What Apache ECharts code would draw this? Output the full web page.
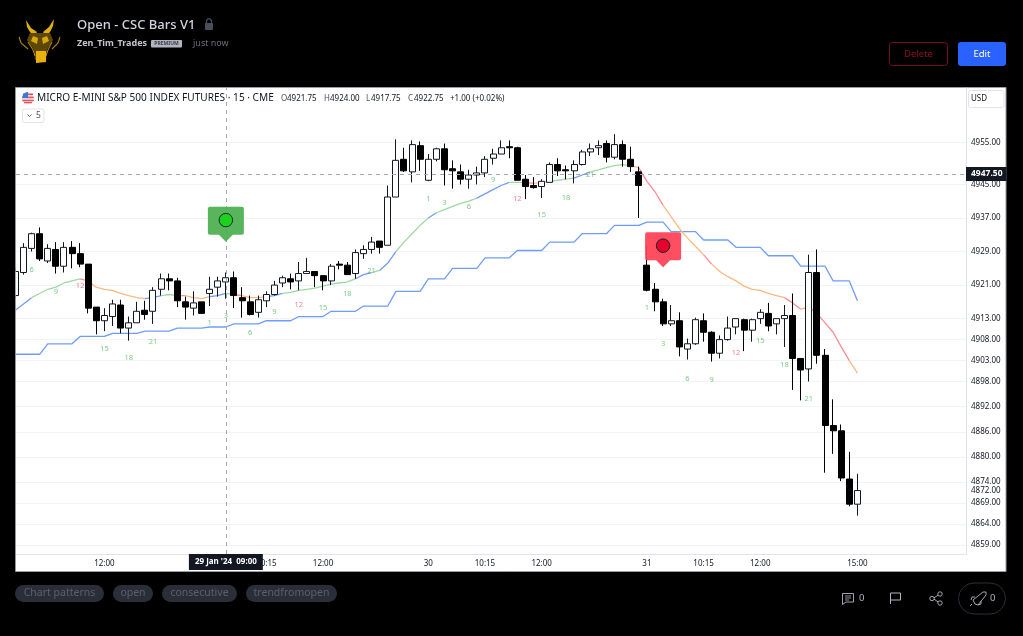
<!DOCTYPE html>
<html>
<head>
<meta charset="utf-8">
<style>html,body{margin:0;padding:0;background:#000}#c{width:1023px;height:636px}</style>
<script src="https://cdn.jsdelivr.net/npm/echarts@6/dist/echarts.min.js"></script>
</head>
<body>
<div id="c"></div>
<script>
// ---- data (bar number 0 is the 12:00 bar of 26 Jan) ----
const firstBar = -11;
// [open, close, low, high]
const ohlc = [
[4918.5,4924.25,4918,4925],[4924,4930,4923.5,4931],[4929.75,4933.25,4929,4933.5],[4933.25,4927.25,4926.75,4934.75],
[4926.75,4929.75,4926.25,4930.75],[4929.5,4925.5,4923.75,4931.25],[4925.5,4930,4924,4931.25],[4930,4928.5,4925,4931.5],
[4928.5,4926,4925.25,4931],[4926,4915.5,4914.25,4926],[4915.75,4912.5,4909.25,4915.75],[4912.5,4913.75,4910,4915.5],
[4913.5,4916.5,4911.25,4917.5],[4916.25,4910.75,4909.5,4917.5],[4910.75,4912,4907.75,4913.5],[4912,4914.75,4912,4917],
[4915,4914,4912.75,4917.25],[4914.75,4919.75,4911.75,4920.5],[4920,4922.5,4918.5,4923.75],[4922.5,4922,4919.75,4923.75],
[4922,4917.25,4915.75,4922.75],[4917,4915.75,4912.75,4918.25],[4915.5,4916.75,4913.75,4919.5],[4917,4914.25,4914.25,4917],
[4919,4920,4916,4923],[4920.5,4922,4918.25,4923],[4921.75,4922.75,4917.75,4924],[4922.75,4918.5,4915.5,4924.25],
[4918,4917.25,4913.25,4920.5],[4917,4914,4913.75,4918.5],[4914.5,4917.5,4913.25,4918.5],[4917.25,4918.75,4915.75,4919.5],
[4918.75,4921,4918.5,4922],[4921.5,4922.75,4920.5,4923.25],[4922.5,4921.75,4920,4923.75],[4922,4923.75,4919.75,4926.5],
[4923.75,4924.25,4923.75,4927.5],[4924.25,4923.25,4920.5,4924.25],[4923.25,4922,4919.75,4923.25],[4922,4925.5,4921,4926],
[4926,4925.75,4924.75,4926.75],[4925.75,4923.5,4923.5,4926.5],[4923.75,4928.75,4922.5,4929.5],[4928.5,4929.5,4927.25,4930.5],
[4929.5,4931.25,4928.5,4932.5],[4931.5,4930,4928.5,4931.5],[4930.5,4942,4930.5,4944.75],[4942,4950.75,4942,4955.75],
[4951,4948.25,4948,4953.75],[4948,4954.5,4945.5,4955.5],[4954.25,4951,4948.25,4955.25],[4946,4951,4945.75,4952.25],
[4951,4953.5,4950.5,4953.75],[4953.5,4948.5,4944.75,4954.75],[4948.75,4948.25,4944,4950.75],[4948,4946.25,4945,4949.75],
[4946.25,4947.25,4944,4948.5],[4947.25,4947.75,4945,4949.25],[4947.75,4951,4946.75,4951.75],[4951.25,4952.25,4949.75,4953.5],
[4952.25,4953.75,4952.25,4955.5],[4954,4953.75,4951.25,4955.5],[4953.75,4946,4946,4954],[4946.25,4944.5,4941.5,4947.25],
[4944.75,4944.25,4944,4946.75],[4944.5,4945.75,4941.75,4946.25],[4945.5,4949.75,4945.5,4950.25],[4949.75,4948.25,4947,4951.25],
[4948.5,4948.25,4946.25,4949.5],[4948.25,4949.75,4945.25,4950.75],[4949.75,4952.75,4949.5,4953.25],[4952.75,4953.5,4951.75,4954.75],
[4953.75,4954.25,4952,4955.5],[4954.75,4951.5,4950.25,4955.5],[4951.5,4954.5,4951,4957],[4954.5,4951,4949.25,4955.5],
[4951,4949.25,4948,4954],[4948,4944.75,4937,4949.25],[4925.75,4919.75,4919.5,4930.5],[4920,4917,4914.75,4921.5],
[4917,4911.75,4911.25,4917.75],[4911.75,4912.5,4911.25,4916.25],[4912.5,4906.25,4904,4914.5],[4905.75,4907,4903.25,4908.25],
[4907,4912.75,4906.75,4913.25],[4912.5,4909.75,4907.5,4914.25],[4909.75,4904.75,4902.75,4910],[4904.75,4908,4903.5,4909],
[4908,4910.75,4907.75,4913.5],[4911,4913,4909.25,4913],[4912.75,4910.25,4905.25,4913],[4910.25,4912.75,4907.5,4913],
[4913,4914.5,4911.75,4915.25],[4914.25,4911.25,4910,4916.75],[4911.75,4913,4909.25,4913],[4913,4913.75,4906.25,4916.25],
[4913.75,4903.5,4896,4919],[4903.5,4900.75,4893.5,4903.5],[4901,4924,4898,4928.25],[4924,4904.25,4902.25,4929.5],
[4904.25,4887.5,4876.25,4905.75],[4887.5,4886.25,4880.75,4893.75],[4886.25,4875,4874.25,4887.75],[4874.75,4868.75,4868.25,4881.25],
[4868.75,4872,4866,4876]
];
const stepLine = [
4904.5,4904.5,4904.5,4904.5,4907,4907,4907,4907,4908.75,4908.75,4908.75,4908.75,4909.5,4909.5,4909.5,4909.5,
4910,4910,4910,4910,4910.75,4910.75,4910.75,4910.75,4911,4911,4911,4911.75,4911.75,4911.75,4911.75,
4912.5,4912.5,4912.5,4912.5,4913.5,4913.5,4913.5,4913.5,4914.75,4914.75,4914.75,4914.75,4916,4916,4916,4916,
4919.5,4919.5,4919.5,4919.5,4922.5,4922.5,4922.5,4925,4925,4925,4925,4927.5,4927.5,4927.5,4927.5,
4929.25,4929.25,4929.25,4929.25,4931.25,4931.25,4931.25,4931.25,4933.25,4933.25,4933.25,4933.25,
4935.25,4935.25,4935.25,4935.25,4936,4936,4936,4933.75,4933.75,4933.75,4933.75,4931.75,4931.75,4931.75,4931.75,
4930,4930,4930,4930,4928,4928,4928,4928,4925.5,4925.5,4925.5,4925.5,4922,4922,4922,4917.25
];
const emaLine = [
4915,4916.5,4918,4919,4920,4920.5,4921.5,4922,4922.5,4922,4920.5,4920,4919.75,4919,4918.5,4918,4917.75,4918,4918.5,4918.75,
4918.5,4918.5,4918,4917.75,4918.25,4918.5,4919,4918.75,4918.5,4918,4918,4918.25,4918.5,4919,4919.25,4919.75,4920,4920.25,4920.75,
4921.25,4921.5,4921.75,4922.5,4923.5,4924,4924.5,4926.25,4929,4931.25,4933.25,4935.25,4937,4938.25,4939,4939.75,4940.5,4941,
4941.75,4942.75,4943.75,4944.75,4945.5,4945.5,4945.5,4945.25,4945.5,4945.75,4946,4946.25,4946.5,4947.25,4948,4948.5,4949,4949.5,
4949.75,4949.5,4949,4945.75,4943.25,4940,4937.25,4934.5,4932.25,4930.25,4928.25,4926,4924.25,4923,4922,4920.75,4920,4919.75,
4919,4918.5,4918,4916.75,4915.25,4915.75,4914.25,4912,4909.75,4906.25,4903,4900
];
// [from bar, to bar, colour key]
const emaSegments = [
[-11,-9,'blue'],[-9,-3,'green'],[-3,-2,'red'],[-2,5,'orange'],[5,7,'blue'],[7,9,'green'],[9,10,'red'],[10,13,'orange'],
[13,15,'blue'],[15,16,'green'],[16,17,'red'],[17,20,'orange'],[20,22,'blue'],[22,31,'green'],[31,33,'blue'],[33,34,'green'],
[34,36,'blue'],[36,40,'green'],[40,41,'blue'],[41,46,'green'],[46,50,'blue'],[50,52,'green'],[52,53,'red'],[53,54,'orange'],
[54,58,'green'],[58,60,'blue'],[60,65,'green'],[65,66,'orange'],[66,69,'red'],[69,74,'orange'],[74,75,'red'],[75,84,'orange'],
[84,86,'red'],[86,87,'orange'],[87,92,'red'],[92,93,'orange']
];
const emaColors = {blue:'#6f9bff',green:'#9fd8a3',red:'#ff8a94',orange:'#ffb97f'};
// [bar, price, text]
const countLabels = [
[-9,4924.6,'6'],[-6,4919.4,'9'],[-3,4920.8,'12'],[0,4905.75,'15'],[3,4903.6,'18'],[6,4907.4,'21'],
[13,4912,'1'],[15,4913.6,'3'],[18,4909.6,'6'],[21,4914.6,'9'],[24,4916.25,'12'],[27,4915.5,'15'],[30,4918.9,'18'],[33,4924.4,'21'],
[40,4941.6,'1'],[42,4940.5,'3'],[45,4939.6,'6'],[48,4946.1,'9'],[51,4941.6,'12'],[54,4937.7,'15'],[57,4941.9,'18'],[60,4947.3,'21'],
[67,4915.5,'1'],[69,4907,'3'],[72,4898.75,'6'],[75,4898.4,'9'],[78,4904.9,'12'],[81,4907.6,'15'],[84,4902,'18'],[87,4893.85,'21']
];
const longSignal = {bar:15, tip:4931.35, dot:4936.5};
const shortSignal = {bar:69, tip:4925.25, dot:4930.4};
const xTickBars = [0,20,27,40,47,54,67,74,81,93];
const xTickLabels = ['12:00','10:15','12:00','30','10:15','12:00','31','10:15','12:00','15:00'];
const yTicks = [4955,4945,4937,4929,4921,4913,4908,4903,4898,4892,4886,4880,4874,4869,4864,4859];
const lastPrice = 4872;
const crossPrice = 4947.5;
const crossBar = 15;
const crossTimeLabel = "29 Jan '24  09:00";
const tagNames = ['Chart patterns','open','consecutive','trendfromopen'];

// ---- chart ----
const FONT = '"Noto Sans", sans-serif';
const barNo = i => firstBar + i;
const idx = b => b - firstBar;
const flagPath = 'path://M2 0H34Q36 0 36 2V26Q36 28 34 28H25L18 35L11 28H2Q0 28 0 26V2Q0 0 2 0Z';

const series = [];
series.push({type:'line',name:'step',silent:true,symbol:'none',z:2,
  data:stepLine.map((v,i)=>[barNo(i),v]),lineStyle:{color:emaColors.blue,width:1.3}});
emaSegments.forEach(([a,b,k])=>{
  const pts=[];for(let n=a;n<=b;n++)pts.push([n,emaLine[idx(n)]]);
  series.push({type:'line',silent:true,symbol:'none',z:2,data:pts,lineStyle:{color:emaColors[k],width:1.3}});
});
series.push({type:'candlestick',name:'bars',silent:true,z:3,barWidth:6.5,
  data:ohlc.map((d,i)=>[barNo(i),d[0],d[1],d[2],d[3]]),
  itemStyle:{color:'#ffffff',color0:'#000000',borderColor:'#131722',borderColor0:'#000000',borderWidth:1}});
series.push({type:'scatter',silent:true,z:4,symbolSize:1,itemStyle:{color:'rgba(0,0,0,0)'},
  data:countLabels.map(d=>({value:d,label:{color:d[2]==='12'?'#f4606e':'#55bf63'}})),
  label:{show:true,position:'inside',fontSize:7.5,fontFamily:FONT,formatter:p=>p.value[2]}});
[[longSignal,'#4caf50','#1fd11f'],[shortSignal,'#ff3f56','#e8002d']].forEach(([s,c,dot])=>{
  series.push({type:'scatter',silent:true,z:6,symbol:flagPath,symbolSize:[36,35],symbolOffset:[0,'-50%'],
    data:[[s.bar,s.tip]],itemStyle:{color:c,opacity:0.93}});
  series.push({type:'scatter',silent:true,z:7,symbol:'circle',symbolSize:13.5,
    data:[[s.bar,s.dot]],itemStyle:{color:dot,borderColor:'#0f2a24',borderWidth:1,opacity:1}});
});

const txt=(x,y,text,font,fill,align)=>({type:'text',z:20,silent:true,style:{x,y,text,font,fill,align:align||'left',verticalAlign:'middle'}});
const pline=(points,color,w)=>({type:'polyline',z:20,silent:true,shape:{points},style:{fill:'none',stroke:color,lineWidth:w||1}});
const poly=(points,color,st,w)=>({type:'polygon',z:20,silent:true,shape:{points},style:{fill:color,stroke:st||'none',lineWidth:w||1}});
const rect=(x,y,w,h,r,fill,st,z)=>({type:'rect',z:z==null?20:z,silent:true,shape:{x,y,width:w,height:h,r:r||0},style:{fill:fill||'none',stroke:st||'none',lineWidth:1}});
const circ=(cx,cy,r,fill,st,w)=>({type:'circle',z:20,silent:true,shape:{cx,cy,r},style:{fill,stroke:st||'none',lineWidth:w||1}});

const pills=[[15,89],[113,40],[162,75],[246,91]];
const graphic=[
  rect(15.5,87.5,990.5,484,0,'#ffffff','#9a9da6',-5),
  // mask left of the panel, keeps the clipped first bar inside
  rect(0,84,15.2,490,0,'#000000',null,30),
  rect(15.2,87.5,0.8,484,0,'#9a9da6',null,30),
  // logo
  poly([[26,20],[27,27],[30,32],[34,36],[37,32],[31,28]],'#e0b010'),
  poly([[54,19],[53,26],[50,32],[46,36],[43,32],[49,27]],'#e0b010'),
  poly([[30,33],[50,33],[53,40],[47,50],[46,60],[35,60],[34,50],[27,40]],'#5e4606'),
  poly([[33,36],[38,38],[37,44],[31,41]],'#d9a80c'),
  poly([[47,36],[42,38],[43,44],[49,41]],'#d9a80c'),
  poly([[36,51],[46,51],[46,62],[36,63]],'#e8b20b'),
  pline([[19,37],[21,43],[28,49]],'#a67c0a',1.2),
  pline([[60,37],[58,43],[52,49]],'#a67c0a',1.2),
  pline([[28,42],[33,50],[35,56]],'#c2920a',1),
  pline([[52,42],[48,50],[46,56]],'#c2920a',1),
  // title block
  txt(77,25.5,'Open - CSC Bars V1','500 13px '+FONT,'#d1d4dc'),
  rect(205,23,8,7,1,'#4a4e5a'),
  pline([[206.5,23],[206.5,20.5],[208,18.8],[210,18.8],[211.5,20.5],[211.5,23]],'#4a4e5a',1.3),
  txt(77,43,'Zen_Tim_Trades','bold 9px '+FONT,'#c3c6ce'),
  rect(151,40,31,7.5,1,'#b2b5be'),
  txt(166.5,43.8,'PREMIUM','bold 5px '+FONT,'#3a3e4a','center'),
  txt(193,43,'just now','9px '+FONT,'#6a6d78'),
  // buttons
  rect(889.5,42.5,58,23,3,'none','#741020'),
  txt(918.5,54,'Delete','9.5px '+FONT,'#8a1222','center'),
  rect(958,42,48,24,3,'#2962ff'),
  txt(982,54,'Edit','9.5px '+FONT,'#ffffff','center'),
  // legend line in the panel
  circ(28,98,6,'#ececf2'),
  rect(23,93.5,10,1.6,0,'#e8505b'),rect(22.3,96.6,11.4,1.6,0,'#e8505b'),rect(22.3,99.7,11.4,1.6,0,'#e8505b'),rect(24,102,8,1.3,0,'#e8505b'),
  poly([[28,92],[25.5,92.6],[23.2,94.3],[22,98],[28,98]],'#3c78d8'),
  txt(37,98.5,'MICRO E-MINI S&P 500 INDEX FUTURES · 15 · CME','10.1px '+FONT,'#131722'),
  txt(281,98.5,'O','8px '+FONT,'#50535e'),txt(287,98.5,'4921.75','8px '+FONT,'#131722'),
  txt(324,98.5,'H','8px '+FONT,'#50535e'),txt(330,98.5,'4924.00','8px '+FONT,'#131722'),
  txt(366,98.5,'L','8px '+FONT,'#50535e'),txt(371,98.5,'4917.75','8px '+FONT,'#131722'),
  txt(408,98.5,'C','8px '+FONT,'#50535e'),txt(414,98.5,'4922.75','8px '+FONT,'#131722'),
  txt(450,98.5,'+1.00 (+0.02%)','8px '+FONT,'#131722'),
  rect(22.5,109,21.5,13.5,2,'#ffffff','#e0e3eb'),
  pline([[27.5,114.5],[29.5,116.5],[31.5,114.5]],'#50535e',0.9),
  txt(36,115.5,'5','8.5px '+FONT,'#50535e'),
  rect(968.5,90.5,35.5,17,2,'#ffffff','#e0e3eb'),
  txt(971,99,'USD','8px '+FONT,'#131722'),
  // tags
  ...pills.map(([x,w],i)=>rect(x,585,w,17,8.5,'#2a2e39')),
  ...pills.map(([x,w],i)=>txt(x+w/2,593.5,tagNames[i],'10.5px '+FONT,'#5d606b','center')),
  // actions
  poly([[842.5,593.5],[853.5,593.5],[853.5,602],[846,602],[842.5,604.5]],'none','#b2b5be',0.9),
  pline([[845,596],[851,596]],'#b2b5be',0.8),pline([[845,598],[851,598]],'#b2b5be',0.8),pline([[845,600],[849,600]],'#b2b5be',0.8),
  txt(859,598.5,'0','9.5px '+FONT,'#b2b5be'),
  pline([[890.5,604],[890.5,593],[900.5,593],[900.5,600],[890.5,600]],'#b2b5be',1),
  pline([[939,594.5],[933,598.5],[939,602.5]],'#b2b5be',0.9),
  circ(932,598.5,2.2,'#000','#b2b5be',0.9),circ(940,594,2.2,'#000','#b2b5be',0.9),circ(940,603,2.2,'#000','#b2b5be',0.9),
  rect(958.5,583,47,31,15.5,'none','#2a2e39'),
  poly([[975,604],[973,600],[983,592],[986,592],[986,595],[978,605]],'none','#b2b5be',0.9),
  pline([[975,597],[972,597],[971,600]],'#b2b5be',0.9),pline([[981,601],[981,604],[978,605]],'#b2b5be',0.9),pline([[972,604],[970,606]],'#b2b5be',0.9),
  txt(990,598.5,'0','9.5px '+FONT,'#b2b5be')
];

const chart=echarts.init(document.getElementById('c'),null,{width:1023,height:636});
chart.setOption({
  animation:false,
  backgroundColor:'#000000',
  grid:{left:16,right:57,top:88,bottom:82},
  xAxis:{type:'value',min:-10.92,max:106.41,
    axisLine:{show:true,lineStyle:{color:'#e0e3eb'}},
    axisTick:{show:false,customValues:xTickBars},
    splitLine:{show:false},
    axisLabel:{show:true,customValues:xTickBars,hideOverlap:false,margin:6,fontSize:8,fontFamily:FONT,color:'#131722',
      formatter:v=>xTickLabels[xTickBars.indexOf(v)]},
    axisPointer:{show:true,type:'line',value:crossBar,status:'show',snap:false,z:5,
      lineStyle:{color:'#a3a6af',type:[4,4],width:1},
      label:{show:true,formatter:crossTimeLabel,backgroundColor:'#131722',color:'#ffffff',fontSize:8,fontWeight:'bold',fontFamily:FONT,padding:[4,6,4,6],margin:0,borderRadius:0}}
  },
  yAxis:{type:'value',position:'right',min:4856.87,max:4968,
    axisLine:{show:true,onZero:false,lineStyle:{color:'#e0e3eb'}},
    axisTick:{show:false,customValues:yTicks},
    splitLine:{show:true,lineStyle:{color:'#f0f3fa',width:1}},
    axisLabel:{show:true,customValues:[...yTicks,lastPrice],hideOverlap:false,margin:5,fontSize:8,fontFamily:FONT,color:'#131722',padding:[3,0,0,0],
      formatter:v=>v.toFixed(2)},
    axisPointer:{show:true,type:'line',value:crossPrice,status:'show',snap:false,z:5,
      lineStyle:{color:'#a3a6af',type:[4,4],width:1},
      label:{show:true,formatter:p=>Number(p.value).toFixed(2),backgroundColor:'#131722',color:'#ffffff',fontSize:8.5,fontWeight:'bold',fontFamily:FONT,padding:[2,4,3,5],margin:0,borderRadius:0}}
  },
  series,
  graphic:{elements:graphic}
});
</script>
</body>
</html>
